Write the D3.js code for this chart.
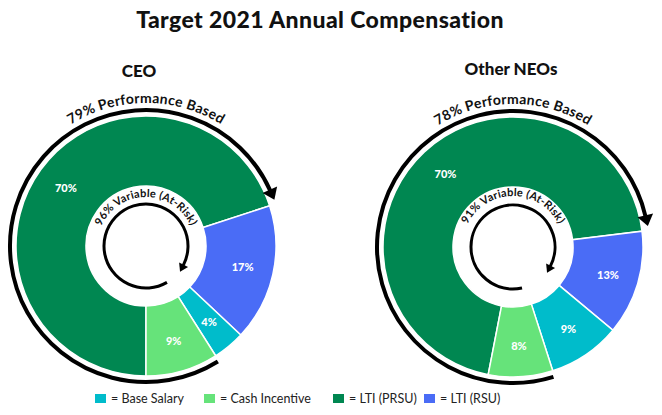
<!DOCTYPE html>
<html><head><meta charset="utf-8">
<script src="https://cdn.jsdelivr.net/npm/d3@7"></script>
<style>
html,body{margin:0;padding:0;background:#fff;}
svg{display:block;font-family:Lato, "Open Sans", sans-serif;}
</style></head>
<body><svg id="c" width="662" height="415"></svg>
<script>
// ---- data ----
const categories = ["Base Salary", "Cash Incentive", "LTI (PRSU)", "LTI (RSU)"];
const groups = ["CEO", "Other NEOs"];
const ceoValues = [4, 9, 70, 17];          // by category order
const neoValues = [9, 8, 70, 13];
const performanceBased = [79, 78];        // % labels on outer arrows
const variableAtRisk = [96, 91];          // % labels on inner arrows
const title = "Target 2021 Annual Compensation";

// ---- style / layout ----
const colors = ["#00bccb", "#66e37a", "#008751", "#4a6cf6"];
const color = d3.scaleOrdinal().domain(categories).range(colors);
const drawOrder = ["LTI (PRSU)", "LTI (RSU)", "Base Salary", "Cash Incentive"];
const layouts = [
  {cx: 146, cy: 246, start: 180, labelX: 139, labelY: 77},
  {cx: 513, cy: 247, start: 191, labelX: 511, labelY: 75}
];
const R = 130, r0 = 60;
const deg = Math.PI / 180;
const TAU = 2 * Math.PI;

const svg = d3.select("#c");
svg.append("text").attr("x", 320).attr("y", 28).attr("text-anchor", "middle")
  .attr("font-size", 23).attr("font-weight", 900).attr("letter-spacing", 0.4).attr("fill", "#111").text(title);

const allValues = [ceoValues, neoValues];
const polar = (r, a) => [r * Math.sin(a), -r * Math.cos(a)];
const arcPath = (r, a0, a1) => {
  const p = d3.path();
  p.arc(0, 0, r, a0 - Math.PI / 2, a1 - Math.PI / 2, false);
  return p.toString();
};
const arrowHead = (r, aBase, len, w) => {
  const P = polar(r, aBase), u = [Math.sin(aBase), -Math.cos(aBase)], t = [Math.cos(aBase), Math.sin(aBase)];
  const tip = [P[0] + t[0] * len, P[1] + t[1] * len];
  const b1 = [P[0] + u[0] * w / 2, P[1] + u[1] * w / 2];
  const b2 = [P[0] - u[0] * w / 2, P[1] - u[1] * w / 2];
  return `M${b1}L${tip}L${b2}Z`;
};

groups.forEach((g, gi) => {
  const L = layouts[gi];
  const vals = allValues[gi];
  const rows = drawOrder.map(c => ({cat: c, value: vals[categories.indexOf(c)]}));
  const total = d3.sum(rows, d => d.value);
  const pie = d3.pie().sort(null).value(d => d.value)
    .startAngle(L.start * deg).endAngle(L.start * deg + TAU);
  const arcs = pie(rows);
  const G = svg.append("g").attr("transform", `translate(${L.cx},${L.cy})`);

  svg.append("text").attr("x", L.labelX).attr("y", L.labelY).attr("text-anchor", "middle")
    .attr("font-size", 17).attr("font-weight", 900).attr("fill", "#111").text(g);

  const arc = d3.arc().innerRadius(r0).outerRadius(R);
  G.selectAll("path.slice").data(arcs).join("path").attr("class", "slice")
    .attr("d", arc).attr("fill", d => color(d.data.cat))
    .attr("stroke", "#fff").attr("stroke-width", 1.5);

  const labelArc = d3.arc().innerRadius(68).outerRadius(R);
  G.selectAll("text.lab").data(arcs).join("text").attr("class", "lab")
    .attr("transform", d => `translate(${labelArc.centroid(d)})`)
    .attr("text-anchor", "middle").attr("dy", "0.35em")
    .attr("font-size", 11).attr("font-weight", 900).attr("fill", "#fff")
    .text(d => Math.round(d.value / total * 100) + "%");

  // outer arrow: from cash incentive start to PRSU end (clockwise)
  const prsu = arcs.find(d => d.data.cat === "LTI (PRSU)");
  const cash = arcs.find(d => d.data.cat === "Cash Incentive");
  const rO = 136;
  const oStart = cash.startAngle - TAU + 0.5 * deg, oTip = prsu.endAngle - 1.5 * deg;
  const headLen = 11, headW = 16;
  const oEnd = oTip - headLen / rO;
  G.append("path").attr("d", arcPath(rO, oStart, oEnd))
    .attr("fill", "none").attr("stroke", "#000").attr("stroke-width", 4);
  G.append("path").attr("d", arrowHead(rO, oEnd - 0.3 * deg, headLen, headW)).attr("fill", "#000");

  // outer text
  const rT = 143;
  G.append("path").attr("id", "ot" + gi).attr("fill", "none")
    .attr("d", `M${-rT},0A${rT},${rT} 0 0 1 ${rT},0`);
  G.append("text").attr("font-size", 14).attr("font-weight", 700).attr("fill", "#111").attr("letter-spacing", 0.3)
    .append("textPath").attr("href", "#ot" + gi).attr("startOffset", "50%").attr("text-anchor", "middle")
    .text(performanceBased[gi] + "% Performance Based");

  // inner arrow
  const rI = 42;
  const iTip = 127 * deg + TAU;
  const iHeadLen = 7, iHeadW = 10;
  const iEnd = iTip - iHeadLen / rI;
  const iStart = iTip - variableAtRisk[gi] / 100 * TAU * 0.975;
  G.append("path").attr("d", arcPath(rI, iStart, iEnd))
    .attr("fill", "none").attr("stroke", "#000").attr("stroke-width", 3);
  G.append("path").attr("d", arrowHead(rI, iEnd - 1 * deg, iHeadLen + 1, iHeadW)).attr("fill", "#000");

  const rIT = 49 + gi * 2;
  G.append("path").attr("id", "it" + gi).attr("fill", "none")
    .attr("d", `M${-rIT},0A${rIT},${rIT} 0 0 1 ${rIT},0`);
  G.append("text").attr("font-size", 11).attr("font-weight", 700).attr("fill", "#111").attr("letter-spacing", 0.2)
    .append("textPath").attr("href", "#it" + gi).attr("startOffset", "50%").attr("text-anchor", "middle")
    .text(variableAtRisk[gi] + "% Variable (At-Risk)");
});

// legend
const legendX = [95, 204, 333, 424];
const legend = svg.append("g");
categories.forEach((c, i) => {
  legend.append("rect").attr("x", legendX[i]).attr("y", 394).attr("width", 11).attr("height", 9).attr("fill", color(c));
  legend.append("text").attr("x", legendX[i] + 16).attr("y", 403).attr("font-size", 12.5).attr("fill", "#222")
    .text("= " + c);
});
</script></body></html>
